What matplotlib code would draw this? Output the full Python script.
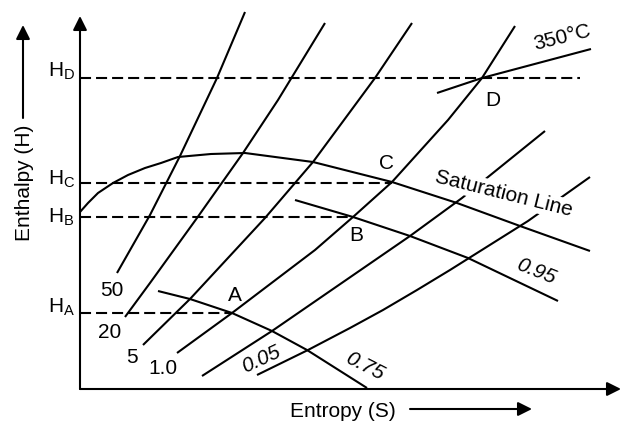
import matplotlib
matplotlib.use('Agg')
import matplotlib.pyplot as plt

plt.rcParams['font.family'] = ['Liberation Sans', 'DejaVu Sans']
plt.rcParams['mathtext.fontset'] = 'custom'
plt.rcParams['mathtext.rm'] = 'Liberation Sans'
plt.rcParams['mathtext.it'] = 'Liberation Sans:italic'

# schematic Mollier chart, points read as (S, H) with origin at the axes corner
# constant pressure lines
p50_s = [37, 70, 100, 137, 165]
p50_h = [116, 174, 233, 311, 377]
p20_s = [45, 70, 117, 163, 198, 245]
p20_h = [72, 106, 171, 236, 289, 366]
p5_s = [63, 110, 185, 233, 295, 332]
p5_h = [44, 90, 171, 227, 311, 366]
p1_s = [97, 152, 235, 273, 312, 368, 402, 435]
p1_h = [36, 76, 139, 172, 207, 269, 311, 363]
p005_s = [122, 192, 330, 382, 465]
p005_h = [13, 58, 153, 191, 258]
plow_s = [177, 228, 270, 303, 337, 370, 448, 510]
plow_h = [14, 39, 61, 79, 99, 119, 168, 212]

# saturation line, dryness lines and the 350 C isotherm
sat_s = [0, 8, 18, 33, 48, 65, 81, 98, 131, 165, 233, 312, 377, 440, 510]
sat_h = [177, 186, 196, 206, 214, 221, 226, 232, 235, 236, 227, 207, 186, 163, 138]
x95_s = [215, 273, 330, 388, 478]
x95_h = [189, 172, 153, 131, 88]
x75_s = [78, 110, 152, 192, 227, 287]
x75_h = [98, 90, 76, 58, 39, 1]
t350_s = [357, 402, 511]
t350_h = [296, 311, 340]

# state points and their enthalpy levels
pt_names = ['A', 'B', 'C', 'D']
pt_s = [152, 273, 312, 402]
pt_h = [76, 172, 206, 311]
dash_end = [152, 273, 312, 500]

fig = plt.figure(figsize=(6.21, 4.23), dpi=100)
ax = fig.add_axes([0, 0, 1, 1])
ax.set_xlim(-80, 541)
ax.set_ylim(-34, 389)
ax.axis('off')

lw = 1.5
for s, h in [(p50_s, p50_h), (p20_s, p20_h), (p5_s, p5_h), (p1_s, p1_h),
             (p005_s, p005_h), (plow_s, plow_h), (sat_s, sat_h),
             (x95_s, x95_h), (x75_s, x75_h), (t350_s, t350_h)]:
    ax.plot(s, h, color='k', lw=lw, solid_capstyle='butt', solid_joinstyle='round', zorder=2)

for name, h, e in zip(pt_names, pt_h, dash_end):
    ax.plot([0, e], [h, h], color='k', lw=lw, dashes=(5.3, 2.4), zorder=2)

# axes with arrow heads
arr = dict(arrowstyle='-|>,head_length=0.6,head_width=0.3', lw=lw, color='k',
           mutation_scale=14, shrinkA=0, shrinkB=0)
ax.annotate('', xy=(0, 373), xytext=(0, 0), arrowprops=arr, annotation_clip=False)
ax.annotate('', xy=(541, 0), xytext=(0, 0), arrowprops=arr, annotation_clip=False)
ax.annotate('', xy=(-57, 364), xytext=(-57, 271), arrowprops=arr, annotation_clip=False)
ax.annotate('', xy=(452, -20), xytext=(330, -20), arrowprops=arr, annotation_clip=False)

fs = 15
ax.text(-56, 206, 'Enthalpy (H)', rotation=90, ha='center', va='center', fontsize=fs)
ax.text(263, -22, 'Entropy (S)', ha='center', va='center', fontsize=fs)

# H level labels
h_base = [76, 166, 204, 312]
for name, b in zip(pt_names, h_base):
    ax.text(-32, b, r'H$_\mathrm{%s}$' % name, ha='left', va='baseline', fontsize=fs)

# point labels
pt_lab = [(155, 94), (276, 154), (307, 226), (413, 289)]
for name, (x, y) in zip(pt_names, pt_lab):
    ax.text(x, y, name, ha='center', va='center', fontsize=fs)

# line labels
ax.text(32, 99, '50', ha='center', va='center', fontsize=fs)
ax.text(30, 57, '20', ha='center', va='center', fontsize=fs)
ax.text(52, 32, '5', ha='center', va='center', fontsize=fs)
ax.text(83, 21, '1.0', ha='center', va='center', fontsize=fs)
ax.text(181, 30, '0.05', ha='center', va='center', fontsize=fs, rotation=25, style='italic')
ax.text(285, 23, '0.75', ha='center', va='center', fontsize=fs, rotation=-27, style='italic')
ax.text(456, 117, '0.95', ha='center', va='center', fontsize=fs, rotation=-22, style='italic')
ax.text(482, 351, '350°C', ha='center', va='center', fontsize=fs, rotation=14)
ax.text(424, 195, 'Saturation Line', ha='center', va='center', fontsize=fs, rotation=-14,
        rotation_mode='anchor', zorder=3,
        bbox=dict(fc='white', ec='none', pad=1))

fig.savefig('out.png', dpi=100)
